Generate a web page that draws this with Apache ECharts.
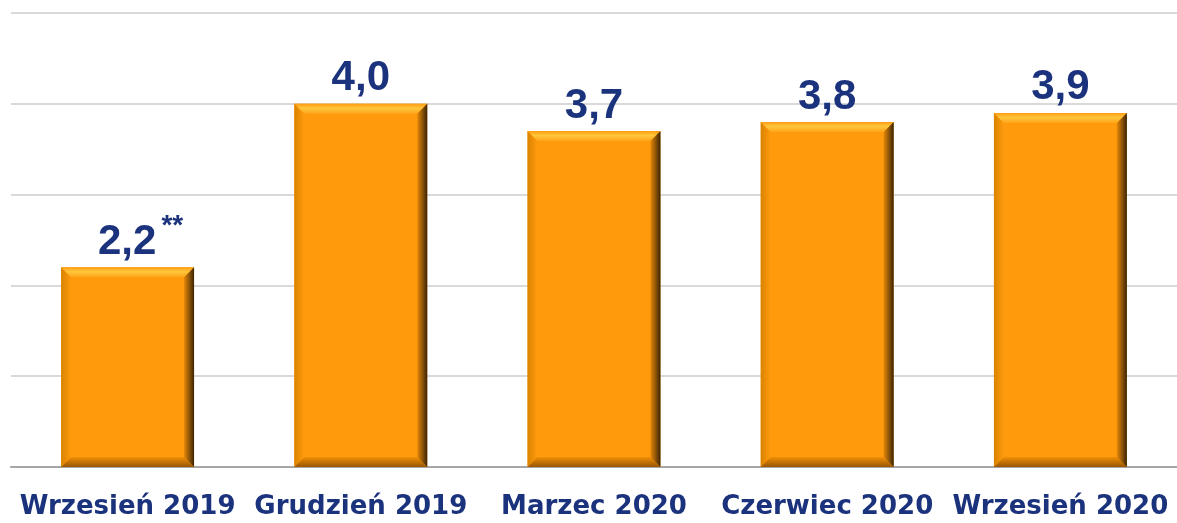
<!DOCTYPE html>
<html lang="pl">
<head>
<meta charset="UTF-8">
<title>Wykres słupkowy</title>
<script src="https://cdn.jsdelivr.net/npm/echarts@6.0.0/dist/echarts.min.js"></script>
<style>
    html, body { margin: 0; padding: 0; background: #fff; }
    #chart { width: 1177px; height: 523px; }
</style>
</head>
<body>
<div id="chart"></div>
<script>
    const categories = ['Wrzesień 2019', 'Grudzień 2019', 'Marzec 2020', 'Czerwiec 2020', 'Wrzesień 2020'];
    const values = [2.2, 4.0, 3.7, 3.8, 3.9];
    const notes = ['**', '', '', '', ''];

    const navy = '#1b327c';
    const barRatio = 0.57;

    // bevel drawn over the plain bar, sized from the axis scale
    function bevel(params, api) {
        const top = api.coord([api.value(0), api.value(1)]);
        const base = api.coord([api.value(0), 0]);
        const w = api.size([1, 0])[0] * barRatio;
        const l = top[0] - w / 2, r = top[0] + w / 2, t = top[1], b = base[1];
        const s = 10;
        const G = echarts.graphic.LinearGradient;
        return {
            type: 'group',
            silent: true,
            children: [
                {type: 'polygon', shape: {points: [[l, t], [l, b], [l + s, b - s], [l + s, t + s]]},
                 style: {fill: new G(0, 0, 1, 0, [{offset: 0, color: '#d98300'}, {offset: 1, color: '#ff9b0e'}])}},
                {type: 'polygon', shape: {points: [[l, b], [r, b], [r - s, b - s], [l + s, b - s]]},
                 style: {fill: new G(0, 0, 0, 1, [{offset: 0, color: '#f08f08'}, {offset: 1, color: '#9a5604'}])}},
                {type: 'polygon', shape: {points: [[l, t], [r, t], [r - s, t + s], [l + s, t + s]]},
                 style: {fill: new G(0, 0, 0, 1, [{offset: 0, color: '#ff9c12'}, {offset: 0.45, color: '#ffc73c'}, {offset: 1, color: '#ffa41a'}])}},
                {type: 'polygon', shape: {points: [[r, t], [r, b], [r - s, b - s], [r - s, t + s]]},
                 style: {fill: new G(0, 0, 1, 0, [{offset: 0, color: '#e48708'}, {offset: 0.55, color: '#8a5309'}, {offset: 1, color: '#3a2303'}])}}
            ]
        };
    }

    const chart = echarts.init(document.getElementById('chart'));
    chart.setOption({
        animation: false,
        backgroundColor: '#fff',
        grid: {left: 11, right: 0, top: 13, bottom: 56},
        xAxis: {
            type: 'category',
            data: categories,
            axisTick: {show: false},
            axisLine: {lineStyle: {color: '#a6a6a6', width: 2}},
            axisLabel: {
                color: navy, fontSize: 26, fontWeight: 'bold',
                fontFamily: 'DejaVu Sans', margin: 27, interval: 0
            }
        },
        yAxis: {
            type: 'value', min: 0, max: 5, interval: 1,
            axisLabel: {show: false},
            axisLine: {show: false},
            axisTick: {show: false},
            splitLine: {lineStyle: {color: '#d9d9d9', width: 2}}
        },
        series: [
            {
                type: 'bar',
                data: values,
                barWidth: (barRatio * 100) + '%',
                itemStyle: {color: '#ff9a0c'},
                label: {
                    show: true,
                    position: 'top',
                    distance: -5,
                    formatter: p => '{v|' + p.value.toFixed(1).replace('.', ',') + '}' +
                        (notes[p.dataIndex] ? '{s|' + notes[p.dataIndex] + '}' : ''),
                    rich: {
                        v: {fontSize: 42, fontWeight: 'bold', color: navy, fontFamily: 'Liberation Sans', lineHeight: 60},
                        s: {fontSize: 28, fontWeight: 'bold', color: navy, fontFamily: 'Liberation Sans',
                            verticalAlign: 'top', lineHeight: 28, padding: [0, 0, 0, 5]}
                    }
                },
                labelLayout: p => p.dataIndex === 0 ? {dx: 13} : {}
            },
            {
                type: 'custom',
                renderItem: bevel,
                data: values.map((v, i) => [i, v]),
                encode: {x: 0, y: 1},
                z: 3
            }
        ]
    });
</script>
</body>
</html>
